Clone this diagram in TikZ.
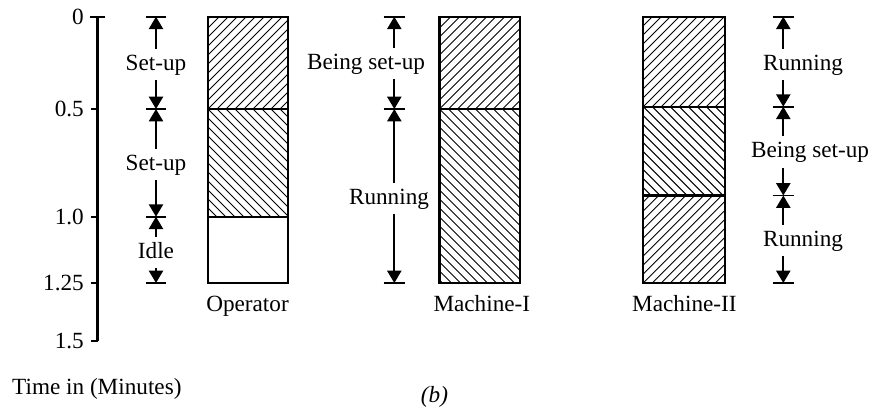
\documentclass[tikz,border=0pt]{standalone}
\usepackage{fontspec}
\setmainfont{Liberation Serif}
\usetikzlibrary{arrows.meta,calc}

% hatched rectangle (x1,y1)-(x2,y2), y counted downwards
\newcommand{\hatchne}[4]{%
  \begin{scope}
    \clip (#1,#2) rectangle (#3,#4);
    \foreach \s in {-270,-261,...,100}
      \draw[hatch] (#1+\s,#4) -- ++(280,-280);
  \end{scope}}
\newcommand{\hatchnw}[4]{%
  \begin{scope}
    \clip (#1,#2) rectangle (#3,#4);
    \foreach \s in {-270,-261,...,100}
      \draw[hatch] (#1+\s,#2) -- ++(280,280);
  \end{scope}}

\begin{document}
\begin{tikzpicture}[x=0.03cm, y=-0.03cm,
            every node/.style={font=\fontsize{19.8}{23}\selectfont, inner sep=0pt},
            bar/.style={draw, line width=1.9pt},
            hatch/.style={line width=0.8pt},
            dim/.style={-{Triangle[width=12pt,length=10.5pt]}, line width=1.6pt},
            tick/.style={line width=1.6pt},
            lbl/.style={text height=13.7pt, text depth=4.3pt, inner ysep=4.3pt}
        ]
        \useasboundingbox (0,0) rectangle (876,409);

        % Time axis
        \draw[line width=1.9pt] (97.5,16.7) -- (97.5,341);
        \draw[tick] (90,16.7) -- (105,16.7);
        \foreach \y in {109,216.7,283,341}
            \draw[tick] (91,\y) -- (97.5,\y);
        \foreach \y/\t [count=\i] in {16.7/0,109/0.5,216.7/1.0,283/1.25,341/1.5}
            \node[anchor=east] (ax\i) at (84,\y) {\t};
        \node[anchor=base west] (axlabel) at (12,394) {Time in (Minutes)};
        \node[anchor=base] (fig) at (434.5,402) {\itshape(b)};

        % Operator
        \hatchne{208}{16.7}{288}{109}
        \hatchnw{208}{109}{288}{216.7}
        \draw[bar] (208,16.7) rectangle (288,283);
        \draw[bar] (208,109) -- (288,109) (208,216.7) -- (288,216.7);
        \node[anchor=base] (op) at (247.5,311.5) {Operator};
        \coordinate (o0) at (156,16.7);
        \coordinate (o1) at (156,109);
        \coordinate (o2) at (156,216.7);
        \coordinate (o3) at (156,283);
        \node[lbl] (os1) at (156,64.5) {Set-up};
        \node[lbl] (os2) at (156,164.5) {Set-up};
        \node[lbl] (oid) at (156,252.5) {Idle};
        \draw[dim] (os1.north -| o0) -- (o0);
        \draw[dim] (os1.south -| o1) -- (o1);
        \draw[dim] (os2.north -| o1) -- (o1);
        \draw[dim] (os2.south -| o2) -- (o2);
        \draw[dim] (oid.north -| o2) -- (o2);
        \draw[dim] (oid.south -| o3) -- (o3);
        \foreach \c in {o0,o1,o2,o3}
            \draw[tick] ([xshift=-0.3cm]\c) -- ([xshift=0.3cm]\c);

        % Machine-I
        \hatchne{439.5}{16.7}{520}{109}
        \hatchnw{439.5}{109}{520}{283}
        \draw[bar] (439.5,16.7) rectangle (520,283);
        \draw[bar] (439.5,109) -- (520,109);
        \node[anchor=base] (m1) at (481.8,311.5) {Machine-I};
        \coordinate (a0) at (394.3,16.7);
        \coordinate (a1) at (394.3,109);
        \coordinate (a2) at (394.3,283);
        \node[lbl] (as1) at (366,63.5) {Being set-up};
        \node[lbl] (ar1) at (389,198.5) {Running};
        \draw[dim] (as1.north -| a0) -- (a0);
        \draw[dim] (as1.south -| a1) -- (a1);
        \draw[dim] (ar1.north -| a1) -- (a1);
        \draw[dim] (ar1.south -| a2) -- (a2);
        \foreach \c in {a0,a1,a2}
            \draw[tick] ([xshift=-0.32cm]\c) -- ([xshift=0.32cm]\c);

        % Machine-II
        \hatchne{643.3}{16.7}{725}{106.7}
        \hatchnw{643.3}{106.7}{725}{195.5}
        \hatchne{643.3}{195.5}{725}{283}
        \draw[bar] (643.3,16.7) rectangle (725,283);
        \draw[bar] (643.3,106.7) -- (725,106.7) (643.3,195.5) -- (725,195.5);
        \node[anchor=base] (m2) at (684.4,311.5) {Machine-II};
        \coordinate (b0) at (783.3,16.7);
        \coordinate (b1) at (783.3,106.7);
        \coordinate (b2) at (783.3,195.5);
        \coordinate (b3) at (783.3,283);
        \node[lbl] (br1) at (803,64.5) {Running};
        \node[lbl] (bs1) at (810,152) {Being set-up};
        \node[lbl] (br2) at (803,240.5) {Running};
        \draw[dim] (br1.north -| b0) -- (b0);
        \draw[dim] (br1.south -| b1) -- (b1);
        \draw[dim] (bs1.north -| b1) -- (b1);
        \draw[dim] (bs1.south -| b2) -- (b2);
        \draw[dim] (br2.north -| b2) -- (b2);
        \draw[dim] (br2.south -| b3) -- (b3);
        \foreach \c in {b0,b1,b2,b3}
            \draw[tick] ([xshift=-0.32cm]\c) -- ([xshift=0.32cm]\c);

        \end{tikzpicture}
\end{document}
